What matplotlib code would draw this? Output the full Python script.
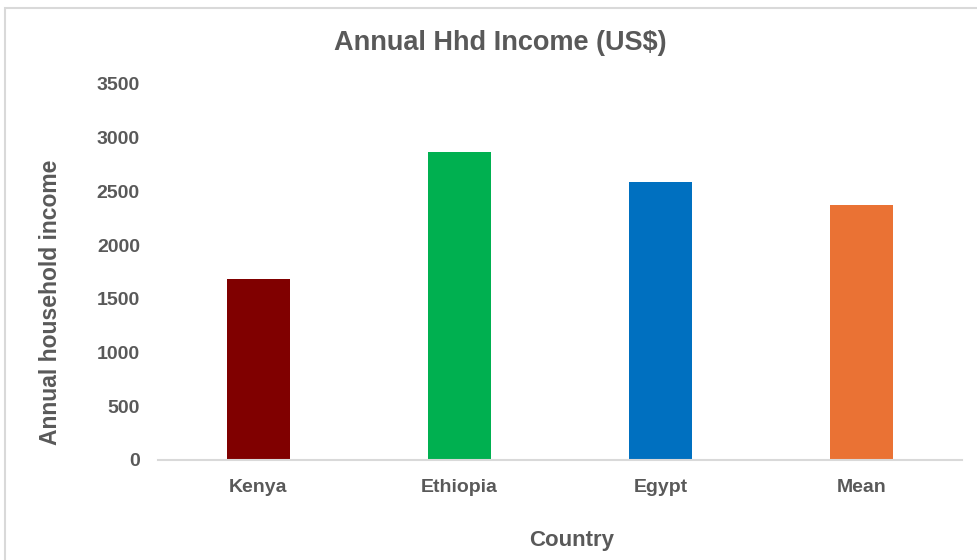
import matplotlib.pyplot as plt
from matplotlib.patches import Rectangle

plt.rcParams['font.family'] = ['Liberation Sans', 'DejaVu Sans']

# Data
countries = ['Kenya', 'Ethiopia', 'Egypt', 'Mean']
income = [1682, 2864, 2585, 2377]
colors = ['#800000', '#00B050', '#0070C0', '#EA7234']
yticks = [0, 500, 1000, 1500, 2000, 2500, 3000, 3500]

text_color = '#595959'

fig = plt.figure(figsize=(9.78, 5.6), dpi=100)
ax = fig.add_axes([158 / 978, 100 / 560, 804 / 978, 376 / 560])

ax.bar(range(len(countries)), income, width=0.31, color=colors)

ax.set_xlim(-0.5, len(countries) - 0.5)
ax.set_ylim(0, 3500)
ax.set_yticks(yticks)
ax.set_xticks(range(len(countries)))
ax.set_xticklabels(countries)

for spine in ['top', 'right', 'left']:
    ax.spines[spine].set_visible(False)
ax.spines['bottom'].set_color('#D9D9D9')
ax.spines['bottom'].set_linewidth(1.5)

ax.tick_params(axis='both', length=0, labelsize=14, labelcolor=text_color)
ax.tick_params(axis='y', pad=13)
ax.tick_params(axis='x', pad=14)
for lbl in ax.get_xticklabels() + ax.get_yticklabels():
    lbl.set_fontweight('bold')

ax.set_xlabel('Country', fontsize=16, fontweight='bold', color=text_color)
ax.set_ylabel('Annual household income', fontsize=16.5, fontweight='bold', color=text_color)
ax.xaxis.set_label_coords(0.515, -0.185)
ax.yaxis.set_label_coords(-0.12, 0.42)

fig.text(500 / 978, 1 - 43 / 560, 'Annual Hhd Income (US$)', ha='center', va='center',
         fontsize=19.5, fontweight='bold', color=text_color)

# light chart-area border
fig.patches.append(Rectangle((5 / 978, -0.1), 1.1, 1 - 8 / 560 + 0.1,
                             transform=fig.transFigure, fill=False,
                             edgecolor='#D9D9D9', linewidth=1.5))

fig.savefig('out.png', dpi=100)
